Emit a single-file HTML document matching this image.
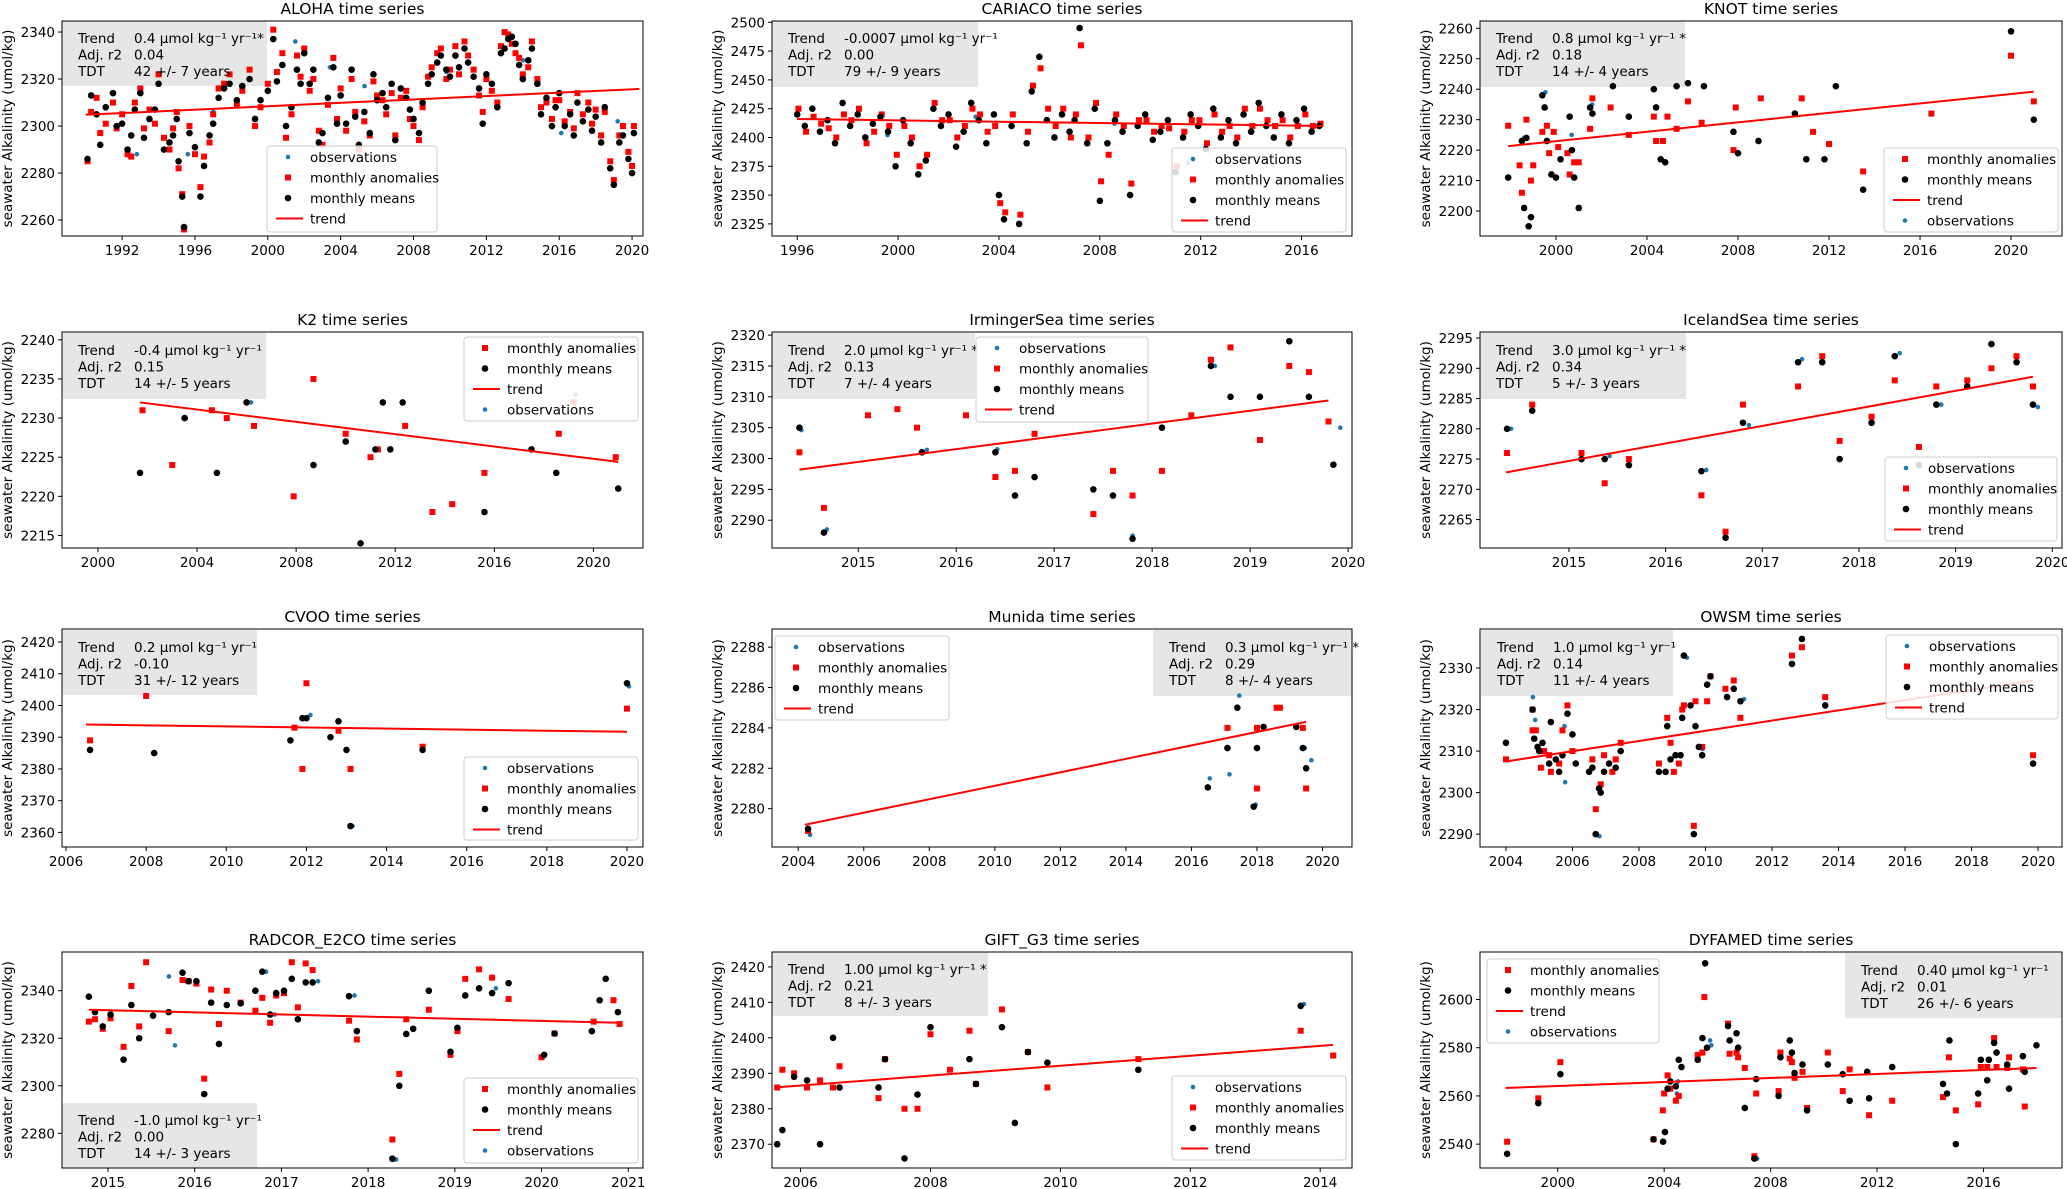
<!DOCTYPE html>
<html><head><meta charset="utf-8"><title>Seawater alkalinity time series</title>
<style>
html,body{margin:0;padding:0;background:#fff;}
svg{display:block;font-family:"DejaVu Sans","Liberation Sans",sans-serif;}
</style></head>
<body>
<svg id="fig" xmlns="http://www.w3.org/2000/svg" width="2067" height="1189" viewBox="0 0 2067 1189"></svg>
<script>
// ---------- DATA ----------
const alohaYears=[1990.1,1990.3,1990.6,1990.8,1991.1,1991.5,1991.7,1992.0,1992.3,1992.5,1992.7,1993.0,1993.2,1993.5,1993.8,1994.0,1994.3,1994.6,1994.8,1995.0,1995.1,1995.3,1995.4,1995.7,1996.0,1996.3,1996.5,1996.8,1997.0,1997.3,1997.6,1997.9,1998.3,1998.6,1999.0,1999.3,1999.6,2000.0,2000.3,2000.5,2000.8,2001.0,2001.3,2001.6,2001.8,2002.0,2002.3,2002.5,2002.8,2003.0,2003.3,2003.6,2003.8,2004.0,2004.3,2004.6,2004.8,2005.0,2005.3,2005.6,2005.8,2006.0,2006.3,2006.5,2006.8,2007.0,2007.3,2007.6,2007.8,2008.0,2008.3,2008.5,2008.8,2009.0,2009.3,2009.5,2009.8,2010.0,2010.3,2010.5,2010.8,2011.0,2011.3,2011.6,2011.8,2012.0,2012.3,2012.6,2012.8,2013.0,2013.2,2013.4,2013.6,2013.8,2014.0,2014.3,2014.5,2014.8,2015.0,2015.3,2015.6,2015.8,2016.0,2016.3,2016.6,2016.8,2017.0,2017.3,2017.6,2017.8,2018.0,2018.3,2018.5,2018.8,2019.0,2019.3,2019.5,2019.8,2020.0,2020.1];
const alohaMeans=[2286,2313,2305,2292,2308,2314,2300,2301,2290,2296,2307,2314,2295,2303,2307,2318,2290,2293,2296,2303,2285,2270,2257,2297,2291,2270,2283,2296,2301,2312,2316,2318,2311,2317,2320,2303,2311,2315,2337,2319,2326,2300,2308,2324,2318,2331,2318,2324,2293,2297,2312,2325,2301,2313,2301,2324,2304,2292,2306,2297,2322,2311,2314,2308,2318,2294,2316,2312,2307,2303,2297,2310,2318,2322,2327,2330,2324,2321,2330,2325,2333,2327,2321,2316,2301,2322,2318,2308,2331,2333,2337,2338,2335,2326,2320,2328,2333,2318,2305,2312,2300,2308,2314,2300,2305,2296,2310,2302,2307,2298,2304,2293,2308,2282,2275,2293,2296,2286,2280,2297];
const alohaAnom=[2285,2306,2312,2297,2301,2310,2299,2305,2288,2287,2310,2316,2299,2307,2301,2322,2295,2290,2299,2306,2282,2271,2256,2300,2288,2274,2287,2293,2305,2316,2318,2322,2309,2315,2324,2300,2308,2318,2341,2323,2331,2295,2305,2330,2321,2333,2315,2320,2298,2292,2309,2329,2303,2316,2298,2320,2306,2290,2302,2296,2319,2313,2311,2305,2314,2296,2312,2315,2303,2300,2294,2308,2321,2325,2331,2333,2320,2324,2334,2322,2336,2330,2324,2313,2306,2320,2315,2310,2334,2340,2339,2335,2331,2329,2322,2325,2336,2320,2308,2310,2303,2311,2311,2302,2306,2299,2314,2305,2310,2301,2307,2296,2306,2285,2277,2296,2300,2289,2283,2300];
const alohaObsYears=[1992.7,1995.5,1996.9,1999.9,2001.4,2003.3,2005.2,2009.7,2013.9,2016.0,2019.1];
const alohaObs=[2288,2288,2306,2318,2336,2325,2317,2323,2328,2297,2302];
const alohaTrendYears=[1990.0,2020.4];
const alohaTrendVals=[2304.8,2315.8];

const cariacoYears=[1996.0,1996.3,1996.6,1996.9,1997.2,1997.5,1997.8,1998.1,1998.4,1998.7,1999.0,1999.3,1999.6,1999.9,2000.2,2000.5,2000.8,2001.1,2001.4,2001.7,2002.0,2002.3,2002.6,2002.9,2003.2,2003.5,2003.8,2004.0,2004.2,2004.5,2004.8,2005.1,2005.3,2005.6,2005.9,2006.2,2006.5,2006.8,2007.0,2007.2,2007.5,2007.8,2008.0,2008.3,2008.6,2008.9,2009.2,2009.5,2009.8,2010.1,2010.4,2010.7,2011.0,2011.3,2011.6,2011.9,2012.2,2012.5,2012.8,2013.1,2013.4,2013.7,2014.0,2014.3,2014.6,2014.9,2015.2,2015.5,2015.8,2016.1,2016.4,2016.7];
const cariacoMeans=[2420,2410,2425,2405,2415,2395,2430,2410,2420,2400,2412,2418,2405,2375,2415,2395,2368,2380,2425,2410,2420,2392,2405,2430,2415,2395,2420,2350,2329,2410,2325,2395,2440,2470,2415,2400,2420,2405,2415,2495,2395,2425,2345,2395,2415,2405,2350,2410,2420,2398,2405,2415,2370,2400,2420,2410,2390,2425,2400,2415,2395,2420,2405,2430,2410,2400,2420,2395,2415,2425,2405,2410];
const cariacoAnom=[2425,2405,2418,2412,2408,2400,2420,2415,2425,2395,2405,2420,2410,2385,2410,2400,2375,2385,2430,2415,2415,2400,2410,2425,2420,2405,2410,2343,2335,2420,2333,2405,2445,2460,2425,2410,2425,2400,2420,2480,2400,2430,2362,2385,2420,2410,2360,2415,2415,2405,2410,2408,2375,2405,2415,2415,2395,2420,2405,2410,2400,2425,2410,2425,2415,2410,2415,2400,2410,2420,2410,2412];
const cariacoObsYears=[1999.5,2003.0,2008.5,2011.4];
const cariacoObs=[2402,2418,2412,2378];
const cariacoTrendYears=[1996.0,2016.8];
const cariacoTrendVals=[2416,2410];

const knotYears=[1997.9,1998.5,1998.6,1998.9,1998.8,1998.7,1999.4,1999.5,1999.6,1999.8,2000.0,2000.2,2000.6,2000.7,2000.8,2001.0,2001.5,2001.6,2002.5,2003.2,2004.3,2004.4,2004.6,2004.8,2005.3,2005.8,2006.5,2007.8,2008.0,2008.9,2010.5,2011.0,2011.8,2012.3,2013.5,2020.0,2021.0];
const knotMeans=[2211,2223,2201,2198,2195,2224,2238,2234,2223,2212,2211,2217,2231,2220,2211,2201,2234,2232,2241,2231,2240,2234,2217,2216,2241,2242,2241,2226,2219,2223,2232,2217,2217,2241,2207,2259,2230];
const knotAnomYears=[1997.9,1998.4,1998.5,1998.7,1998.9,1999.0,1999.4,1999.6,1999.7,1999.9,2000.1,2000.5,2000.6,2000.8,2001.0,2001.5,2001.6,2002.4,2003.2,2004.3,2004.4,2004.7,2004.9,2005.3,2005.8,2006.4,2007.8,2007.9,2009.0,2010.8,2011.3,2012.0,2013.5,2016.5,2020.0,2021.0];
const knotAnom=[2228,2215,2206,2230,2210,2215,2226,2228,2219,2226,2221,2219,2212,2216,2216,2227,2237,2234,2225,2231,2223,2223,2231,2227,2236,2229,2220,2234,2237,2237,2226,2222,2213,2232,2251,2236];
const knotObsYears=[1998.5,1999.45,2000.6,2001.5];
const knotObs=[2224,2239,2225,2235];
const knotTrendYears=[1997.9,2021.0];
const knotTrendVals=[2221.3,2239.2];

const k2Years=[2001.7,2002.9,2003.5,2004.8,2006.0,2007.8,2008.7,2010.0,2010.6,2011.2,2011.5,2011.8,2012.3,2013.4,2015.6,2017.5,2018.5,2021.0];
const k2Means=[2223,2213,2230,2223,2232,2212,2224,2227,2214,2226,2232,2226,2232,2213,2218,2226,2223,2221];
const k2AnomYears=[2001.8,2003.0,2004.6,2005.2,2006.3,2007.9,2008.7,2010.0,2011.0,2011.3,2012.4,2013.5,2014.3,2015.6,2018.6,2019.2,2020.9];
const k2Anom=[2231,2224,2231,2230,2229,2220,2235,2228,2225,2226,2229,2218,2219,2223,2228,2232,2225];
const k2ObsYears=[2006.1,2019.2];
const k2Obs=[2232,2233];
const k2TrendYears=[2001.7,2021.0];
const k2TrendVals=[2232.0,2224.4];

const irmYears=[2014.4,2014.65,2015.65,2016.4,2016.6,2016.8,2017.4,2017.6,2017.8,2018.1,2018.6,2018.8,2019.1,2019.4,2019.6,2019.85];
const irmMeans=[2305,2288,2301,2301,2294,2297,2295,2294,2287,2305,2315,2310,2310,2319,2310,2299];
const irmAnomYears=[2014.4,2014.65,2015.1,2015.4,2015.6,2016.1,2016.4,2016.6,2016.8,2017.4,2017.6,2017.8,2018.1,2018.4,2018.6,2018.8,2019.1,2019.4,2019.6,2019.8];
const irmAnom=[2301,2292,2307,2308,2305,2307,2297,2298,2304,2291,2298,2294,2298,2307,2316,2318,2303,2315,2314,2306];
const irmObsYears=[2014.4,2014.66,2015.68,2016.4,2017.58,2017.78,2018.62,2019.9];
const irmObs=[2304.6,2288.5,2301.4,2301.5,2294,2287.5,2315,2305];
const irmTrendYears=[2014.4,2019.8];
const irmTrendVals=[2298.2,2309.4];

const iceYears=[2014.36,2014.62,2015.13,2015.37,2015.62,2016.37,2016.62,2016.8,2017.37,2017.62,2017.8,2018.13,2018.37,2018.62,2018.8,2019.12,2019.37,2019.63,2019.8];
const iceMeans=[2280,2283,2275,2275,2274,2273,2262,2281,2291,2291,2275,2281,2292,2274,2284,2287,2294,2291,2284];
const iceAnom=[2276,2284,2276,2271,2275,2269,2263,2284,2287,2292,2278,2282,2288,2277,2287,2288,2290,2292,2287];
const iceObsYears=[2014.38,2015.4,2016.4,2016.84,2017.39,2018.4,2018.83,2019.83];
const iceObs=[2280,2275.5,2273.2,2280.6,2291.5,2292.5,2284,2283.6];
const iceTrendYears=[2014.35,2019.8];
const iceTrendVals=[2272.8,2288.6];

const cvooYears=[2006.6,2008.2,2011.6,2011.9,2012.0,2012.6,2012.8,2013.0,2013.1,2014.9,2020.0];
const cvooMeans=[2386,2385,2389,2396,2396,2390,2395,2386,2362,2386,2407];
const cvooAnomYears=[2006.6,2008.0,2011.7,2011.9,2012.0,2012.8,2013.1,2014.9,2020.0];
const cvooAnom=[2389,2403,2393,2380,2407,2392,2380,2387,2399];
const cvooObsYears=[2012.05,2013.1,2020.0];
const cvooObs=[2397,2362,2406];
const cvooTrendYears=[2006.5,2020.0];
const cvooTrendVals=[2394.0,2391.7];

const munYears=[2004.3,2016.5,2017.1,2017.4,2018.0,2017.9,2018.2,2019.2,2019.4,2019.5];
const munMeans=[2279.0,2281.05,2283.0,2285.0,2283.0,2280.1,2284.05,2284.05,2283.0,2282.0];
const munAnomYears=[2004.3,2017.1,2018.0,2018.6,2018.7,2018.0,2019.4,2019.5];
const munAnom=[2278.9,2284.0,2284.0,2285.0,2285.0,2281.0,2284.0,2281.0];
const munObsYears=[2004.3,2016.5,2017.1,2017.4,2017.9,2019.4,2019.6];
const munObs=[2278.7,2281.5,2281.7,2285.6,2280.2,2283.0,2282.4];
const munTrendYears=[2004.2,2019.5];
const munTrendVals=[2279.2,2284.3];

const owsmYears=[2004.0,2004.8,2004.85,2004.95,2005.0,2005.1,2005.3,2005.35,2005.5,2005.6,2005.7,2005.85,2006.0,2006.1,2006.5,2006.6,2006.7,2006.8,2006.85,2006.95,2007.1,2007.3,2007.45,2008.6,2008.8,2008.85,2008.95,2009.1,2009.25,2009.3,2009.35,2009.55,2009.65,2009.7,2009.8,2009.9,2010.05,2010.15,2010.65,2010.85,2011.05,2012.6,2012.9,2013.6,2019.85];
const owsmMeans=[2312,2320,2313,2311,2310,2312,2307,2317,2308,2305,2309,2319,2314,2307,2305,2306,2290,2301,2300,2305,2307,2306,2310,2305,2305,2316,2308,2309,2309,2318,2333,2321,2290,2316,2311,2309,2326,2328,2323,2325,2322,2331,2337,2321,2307];
const owsmAnomYears=[2004.0,2004.8,2004.8,2004.9,2005.05,2005.15,2005.35,2005.3,2005.6,2005.7,2005.85,2006.0,2006.6,2006.7,2006.85,2006.95,2007.2,2007.3,2007.45,2008.6,2008.85,2008.95,2009.05,2009.2,2009.3,2009.35,2009.65,2009.7,2009.9,2010.05,2010.15,2010.6,2010.85,2011.05,2012.6,2012.9,2013.6,2019.85];
const owsmAnom=[2308,2320,2315,2315,2306,2310,2305,2309,2307,2315,2321,2310,2308,2296,2302,2309,2305,2308,2312,2307,2318,2312,2305,2307,2320,2321,2292,2322,2311,2322,2328,2325,2327,2318,2333,2335,2323,2309];
const owsmObsYears=[2004.75,2004.82,2005.7,2005.72,2006.75,2009.38,2009.85,2011.1];
const owsmObs=[2323,2317.5,2316,2302.5,2289.5,2332.5,2310.5,2322.5];
const owsmTrendYears=[2004.0,2019.85];
const owsmTrendVals=[2307.5,2327.0];

const radYears=[2014.78,2014.85,2014.94,2015.03,2015.18,2015.27,2015.36,2015.52,2015.7,2015.86,2015.93,2016.02,2016.11,2016.19,2016.28,2016.37,2016.53,2016.7,2016.78,2016.87,2016.94,2017.03,2017.12,2017.19,2017.28,2017.36,2017.78,2017.87,2018.28,2018.36,2018.44,2018.52,2018.7,2018.95,2019.03,2019.12,2019.28,2019.43,2019.62,2020.03,2020.15,2020.58,2020.67,2020.74,2020.88];
const radMeans=[2337.5,2331,2325,2330,2311,2334,2320,2329.5,2331,2347.6,2344,2344,2296.5,2335,2317.6,2334,2334.7,2340,2348,2330,2339,2340,2345,2328,2343.5,2343.5,2337.7,2323,2269.3,2300,2321.8,2324,2340,2314.3,2324.4,2338,2341,2339,2343.2,2313,2322,2323,2336,2345,2331];
const radAnomYears=[2014.78,2014.85,2014.94,2015.03,2015.18,2015.27,2015.36,2015.44,2015.7,2015.86,2015.93,2016.02,2016.11,2016.19,2016.28,2016.37,2016.53,2016.7,2016.78,2016.87,2016.94,2017.03,2017.12,2017.19,2017.28,2017.36,2017.78,2017.87,2018.28,2018.36,2018.44,2018.7,2018.95,2019.03,2019.12,2019.28,2019.43,2019.62,2020.0,2020.15,2020.6,2020.83,2020.9];
const radAnom=[2327,2328,2324,2328.4,2316.4,2342,2325,2352,2323,2344.5,2344,2343,2303,2340.5,2326,2340,2335,2331.6,2337,2326.5,2338,2339,2352,2333,2351.5,2348.7,2327.4,2319.5,2277.4,2305,2328,2332,2313,2323,2345,2349,2345.5,2336.5,2312,2322,2327,2336,2326];
const radObsYears=[2015.68,2015.75,2016.8,2016.9,2017.4,2017.82,2018.3,2019.45];
const radObs=[2346,2317,2348,2330,2344,2338,2269,2341];
const radTrendYears=[2014.78,2020.9];
const radTrendVals=[2332.0,2326.5];

const giftYears=[2005.64,2005.72,2005.9,2006.1,2006.3,2006.5,2006.6,2007.2,2007.3,2007.6,2007.8,2008.0,2008.6,2008.7,2009.1,2009.3,2009.5,2009.8,2011.2,2013.7];
const giftMeans=[2370,2374,2389,2388,2370,2400,2386,2386,2394,2366,2384,2403,2394,2387,2403,2376,2396,2393,2391,2409];
const giftAnomYears=[2005.64,2005.72,2005.9,2006.1,2006.3,2006.5,2006.6,2007.2,2007.3,2007.6,2007.8,2008.0,2008.3,2008.6,2008.7,2009.1,2009.5,2009.8,2011.2,2013.7,2014.2];
const giftAnom=[2386,2391,2390,2386,2388,2386,2392,2383,2394,2380,2380,2401,2391,2402,2387,2408,2396,2386,2394,2402,2395];
const giftObsYears=[2013.72];
const giftObs=[2409.5];
const giftTrendYears=[2005.6,2014.2];
const giftTrendVals=[2386.0,2398.0];

const dyfYears=[1998.1,1999.27,2000.1,2003.6,2003.96,2004.03,2004.13,2004.23,2004.44,2004.55,2004.65,2005.26,2005.44,2005.54,2005.61,2006.4,2006.46,2006.72,2006.78,2007.03,2007.39,2007.46,2008.3,2008.37,2008.72,2008.8,2008.9,2009.2,2009.37,2010.15,2010.71,2010.97,2011.63,2011.7,2012.57,2014.48,2014.63,2014.72,2014.96,2015.8,2015.9,2016.14,2016.2,2016.4,2016.49,2016.89,2016.96,2017.48,2017.55,2017.99];
const dyfMeans=[2536,2557,2569,2542,2541,2545,2563,2566,2564,2575,2572,2575,2584,2615,2580,2589,2583,2586,2580,2555,2534,2567,2560,2576,2583,2578,2569.5,2573,2554,2573,2569,2558,2570,2559,2572,2565,2561,2583,2540,2561,2575,2566.5,2575,2582,2578,2573,2563,2576.5,2570,2581];
const dyfAnomYears=[1998.1,1999.27,2000.1,2003.6,2003.95,2004.0,2004.13,2004.23,2004.44,2004.55,2005.26,2005.44,2005.51,2006.4,2006.46,2006.72,2006.78,2007.03,2007.39,2007.46,2008.3,2008.37,2008.72,2008.8,2008.9,2009.2,2009.37,2010.15,2010.71,2010.97,2011.7,2012.57,2014.48,2014.7,2014.96,2015.8,2015.9,2016.14,2016.4,2016.49,2016.89,2016.96,2017.48,2017.55];
const dyfAnom=[2541,2559,2574,2542,2554,2561,2568.5,2563,2558,2560,2577,2578,2601,2590,2577.5,2578,2576,2571.6,2535,2561,2562,2578,2575.5,2574,2567.5,2570,2555,2578,2562,2571,2552,2558,2559.5,2576,2554,2556.5,2572,2572,2584,2572,2571.6,2576,2571,2555.6];
const dyfObsYears=[2004.4,2004.45,2005.65,2005.7,2007.42];
const dyfObs=[2561,2566,2583,2581,2534];
const dyfTrendYears=[1998.04,2017.99];
const dyfTrendVals=[2563.3,2571.6];

// ---------- PANEL LAYOUT ----------
const C1=[62,643],C2=[772,1352],C3=[1480,2062];
const R1=[21,236],R2=[332,548],R3=[629,847],R4=[952,1168];
const panels=[
 {id:'aloha',title:'ALOHA time series',col:C1,row:R1,x0:1988.7,x1:2020.6,y0:2253.2,y1:2344.7,xt:[1992,1996,2000,2004,2008,2012,2016,2020],yt:[2260,2280,2300,2320,2340],
  yrs:alohaYears,means:alohaMeans,ayrs:alohaYears,anom:alohaAnom,oyrs:alohaObsYears,obs:alohaObs,tx:alohaTrendYears,ty:alohaTrendVals,
  info:[62,21,205,65],it:['0.4 µmol kg⁻¹ yr⁻¹*','0.04','42 +/- 7 years'],leg:[267,146,170,86],order:['obs','anom','means','trend']},
 {id:'cariaco',title:'CARIACO time series',col:C2,row:R2?C2&&R1:R1,x0:1995.0,x1:2018.0,y0:2314.5,y1:2501.1,xt:[1996,2000,2004,2008,2012,2016],yt:[2325,2350,2375,2400,2425,2450,2475,2500],
  yrs:cariacoYears,means:cariacoMeans,ayrs:cariacoYears.map(v=>v+0.05),anom:cariacoAnom,oyrs:cariacoObsYears,obs:cariacoObs,tx:cariacoTrendYears,ty:cariacoTrendVals,
  info:[772,21,206,66],it:['-0.0007 µmol kg⁻¹ yr⁻¹','0.00','79 +/- 9 years'],leg:[1172,148,174,84],order:['obs','anom','means','trend']},
 {id:'knot',title:'KNOT time series',col:C3,row:R1,x0:1996.66,x1:2022.24,y0:2191.8,y1:2262.4,xt:[2000,2004,2008,2012,2016,2020],yt:[2200,2210,2220,2230,2240,2250,2260],
  yrs:knotYears,means:knotMeans,ayrs:knotAnomYears,anom:knotAnom,oyrs:knotObsYears,obs:knotObs,tx:knotTrendYears,ty:knotTrendVals,
  info:[1480,21,205,66],it:['0.8 µmol kg⁻¹ yr⁻¹ *','0.18','14 +/- 4 years'],leg:[1884,148,174,84],order:['anom','means','trend','obs']},
 {id:'k2',title:'K2 time series',col:C1,row:R2,x0:1998.55,x1:2022.0,y0:2213.4,y1:2241.0,xt:[2000,2004,2008,2012,2016,2020],yt:[2215,2220,2225,2230,2235,2240],
  yrs:k2Years,means:k2Means,ayrs:k2AnomYears,anom:k2Anom,oyrs:k2ObsYears,obs:k2Obs,tx:k2TrendYears,ty:k2TrendVals,
  info:[62,333,204,66],it:['-0.4 µmol kg⁻¹ yr⁻¹','0.15','14 +/- 5 years'],leg:[464,337,174,84],order:['anom','means','trend','obs']},
 {id:'irminger',title:'IrmingerSea time series',col:C2,row:R2,x0:2014.12,x1:2020.04,y0:2285.5,y1:2320.5,xt:[2015,2016,2017,2018,2019,2020],yt:[2290,2295,2300,2305,2310,2315,2320],
  yrs:irmYears,means:irmMeans,ayrs:irmAnomYears,anom:irmAnom,oyrs:irmObsYears,obs:irmObs,tx:irmTrendYears,ty:irmTrendVals,
  info:[772,333,203,66],it:['2.0 µmol kg⁻¹ yr⁻¹ *','0.13','7 +/- 4 years'],leg:[976,337,172,85],order:['obs','anom','means','trend']},
 {id:'iceland',title:'IcelandSea time series',col:C3,row:R2,x0:2014.08,x1:2020.1,y0:2260.3,y1:2296.0,xt:[2015,2016,2017,2018,2019,2020],yt:[2265,2270,2275,2280,2285,2290,2295],
  yrs:iceYears,means:iceMeans,ayrs:iceYears,anom:iceAnom,oyrs:iceObsYears,obs:iceObs,tx:iceTrendYears,ty:iceTrendVals,
  info:[1480,333,206,66],it:['3.0 µmol kg⁻¹ yr⁻¹ *','0.34','5 +/- 3 years'],leg:[1885,457,172,84],order:['obs','anom','means','trend']},
 {id:'cvoo',title:'CVOO time series',col:C1,row:R3,x0:2005.9,x1:2020.4,y0:2355.4,y1:2424.1,xt:[2006,2008,2010,2012,2014,2016,2018,2020],yt:[2360,2370,2380,2390,2400,2410,2420],
  yrs:cvooYears,means:cvooMeans,ayrs:cvooAnomYears,anom:cvooAnom,oyrs:cvooObsYears,obs:cvooObs,tx:cvooTrendYears,ty:cvooTrendVals,
  info:[62,630,195,65],it:['0.2 µmol kg⁻¹ yr⁻¹','-0.10','31 +/- 12 years'],leg:[464,757,174,83],order:['obs','anom','means','trend']},
 {id:'munida',title:'Munida time series',col:C2,row:R3,x0:2003.2,x1:2020.9,y0:2278.1,y1:2288.9,xt:[2004,2006,2008,2010,2012,2014,2016,2018,2020],yt:[2280,2282,2284,2286,2288],
  yrs:munYears,means:munMeans,ayrs:munAnomYears,anom:munAnom,oyrs:munObsYears,obs:munObs,tx:munTrendYears,ty:munTrendVals,
  info:[1153,630,199,66],it:['0.3 µmol kg⁻¹ yr⁻¹ *','0.29','8 +/- 4 years'],leg:[775,636,174,84],order:['obs','anom','means','trend']},
 {id:'owsm',title:'OWSM time series',col:C3,row:R3,x0:2003.22,x1:2020.72,y0:2286.9,y1:2339.4,xt:[2004,2006,2008,2010,2012,2014,2016,2018,2020],yt:[2290,2300,2310,2320,2330],
  yrs:owsmYears,means:owsmMeans,ayrs:owsmAnomYears,anom:owsmAnom,oyrs:owsmObsYears,obs:owsmObs,tx:owsmTrendYears,ty:owsmTrendVals,
  info:[1481,630,192,66],it:['1.0 µmol kg⁻¹ yr⁻¹','0.14','11 +/- 4 years'],leg:[1886,635,172,84],order:['obs','anom','means','trend']},
 {id:'radcor',title:'RADCOR_E2CO time series',col:C1,row:R4,x0:2014.47,x1:2021.17,y0:2265.4,y1:2356.3,xt:[2015,2016,2017,2018,2019,2020,2021],yt:[2280,2300,2320,2340],
  yrs:radYears,means:radMeans,ayrs:radAnomYears,anom:radAnom,oyrs:radObsYears,obs:radObs,tx:radTrendYears,ty:radTrendVals,
  info:[62,1103,195,65],it:['-1.0 µmol kg⁻¹ yr⁻¹','0.00','14 +/- 3 years'],leg:[464,1078,174,85],order:['anom','means','trend','obs']},
 {id:'gift',title:'GIFT_G3 time series',col:C2,row:R4,x0:2005.56,x1:2014.49,y0:2363.3,y1:2424.2,xt:[2006,2008,2010,2012,2014],yt:[2370,2380,2390,2400,2410,2420],
  yrs:giftYears,means:giftMeans,ayrs:giftAnomYears,anom:giftAnom,oyrs:giftObsYears,obs:giftObs,tx:giftTrendYears,ty:giftTrendVals,
  info:[772,952,216,64],it:['1.00 µmol kg⁻¹ yr⁻¹ *','0.21','8 +/- 3 years'],leg:[1172,1076,174,84],order:['obs','anom','means','trend']},
 {id:'dyfamed',title:'DYFAMED time series',col:C3,row:R4,x0:1997.08,x1:2018.95,y0:2530.1,y1:2619.7,xt:[2000,2004,2008,2012,2016],yt:[2540,2560,2580,2600],
  yrs:dyfYears,means:dyfMeans,ayrs:dyfAnomYears,anom:dyfAnom,oyrs:dyfObsYears,obs:dyfObs,tx:dyfTrendYears,ty:dyfTrendVals,
  info:[1845,953,217,65],it:['0.40 µmol kg⁻¹ yr⁻¹','0.01','26 +/- 6 years'],leg:[1487,959,172,84],order:['anom','means','trend','obs']}
];
panels[1].row=R1;

// ---------- DRAW ----------
const NS='http://www.w3.org/2000/svg';
const svg=document.getElementById('fig');
function mk(tag,attrs,parent){const e=document.createElementNS(NS,tag);for(const k in attrs)e.setAttribute(k,attrs[k]);parent.appendChild(e);return e;}
const defs=mk('defs',{},svg);

panels.forEach(p=>{
  const L=p.col[0],R=p.col[1],T=p.row[0],B=p.row[1];
  const sx=v=>L+(v-p.x0)/(p.x1-p.x0)*(R-L);
  const sy=v=>B-(v-p.y0)/(p.y1-p.y0)*(B-T);
  const g=mk('g',{},svg);
  
  
  const cp=mk('clipPath',{id:'clip-'+p.id},defs);
  mk('rect',{x:L,y:T,width:R-L,height:B-T},cp);

  const title=mk('text',{x:(L+R)/2,y:T-7,'text-anchor':'middle','font-size':15.5,fill:'#000'},g);
  title.textContent=p.title;
  
  

  const yl=mk('text',{x:0,y:0,'text-anchor':'middle','font-size':13.5,fill:'#000',transform:`translate(${L-50},${(T+B)/2}) rotate(-90)`},g);
  yl.textContent='seawater Alkalinity (umol/kg)';
  
  

  p.yt.forEach(v=>{
    const y=sy(v);
    const tk=mk('line',{x1:L-4,x2:L,y1:y,y2:y,stroke:'#000','stroke-width':1},g);
    
    
    const t=mk('text',{x:L-7,y:y+5,'text-anchor':'end','font-size':13.5,fill:'#000'},g);
    t.textContent=v;
    
    
  });
  p.xt.forEach(v=>{
    const x=sx(v);
    const tk=mk('line',{x1:x,x2:x,y1:B,y2:B+4,stroke:'#000','stroke-width':1},g);
    
    
    const t=mk('text',{x:x,y:B+19,'text-anchor':'middle','font-size':13.5,fill:'#000'},g);
    t.textContent=v;
    
    
  });

  const pg=mk('g',{'clip-path':`url(#clip-${p.id})`},g);
  
  

  // info box (behind points)
  const ib=mk('rect',{x:p.info[0],y:p.info[1],width:p.info[2],height:p.info[3],fill:'#e6e6e6'},pg);
  
  

  p.oyrs.forEach((yr,i)=>{
    if(p.obs[i]===undefined)return;
    const c=mk('circle',{cx:sx(yr)+2,cy:sy(p.obs[i]),r:2.3,fill:'#1f77b4'},pg);
    
    
  });
  p.ayrs.forEach((yr,i)=>{
    if(p.anom[i]===undefined)return;
    const r=mk('rect',{x:sx(yr)-3,y:sy(p.anom[i])-3,width:6,height:6,fill:'#ff0000'},pg);
    
    
  });
  p.yrs.forEach((yr,i)=>{
    if(p.means[i]===undefined)return;
    const c=mk('circle',{cx:sx(yr),cy:sy(p.means[i]),r:3.3,fill:'#000'},pg);
    
    
  });
  const tl=mk('line',{x1:sx(p.tx[0]),y1:sy(p.ty[0]),x2:sx(p.tx[1]),y2:sy(p.ty[1]),stroke:'#ff0000','stroke-width':2},pg);
  
  

  // stats text
  const labels=['Trend','Adj. r2','TDT'];
  labels.forEach((lb,i)=>{
    const yy=p.info[1]+22+i*16.5;
    const a=mk('text',{x:p.info[0]+16,y:yy,'font-size':13.5,fill:'#000'},g);
    a.textContent=lb;
    
    
    const b=mk('text',{x:p.info[0]+72,y:yy,'font-size':13.5,fill:'#000'},g);
    b.textContent=p.it[i];
    
    
  });

  // legend
  const lg=mk('g',{},g);
  
  
  const lr=mk('rect',{x:p.leg[0],y:p.leg[1],width:p.leg[2],height:p.leg[3],rx:3,fill:'#fff','fill-opacity':0.85,stroke:'#cccccc','stroke-width':1},lg);
  
  
  const names={obs:'observations',anom:'monthly anomalies',means:'monthly means',trend:'trend'};
  p.order.forEach((k,i)=>{
    const cy=p.leg[1]+11+i*20.5;
    const mx=p.leg[0]+21;
    let m;
    if(k==='obs')m=mk('circle',{cx:mx,cy:cy,r:2.3,fill:'#1f77b4'},lg);
    else if(k==='anom')m=mk('rect',{x:mx-3,y:cy-3,width:6,height:6,fill:'#ff0000'},lg);
    else if(k==='means')m=mk('circle',{cx:mx,cy:cy,r:3.3,fill:'#000'},lg);
    else m=mk('line',{x1:mx-12,x2:mx+15,y1:cy,y2:cy,stroke:'#ff0000','stroke-width':2},lg);
    
    
    const t=mk('text',{x:p.leg[0]+43,y:cy+5,'font-size':13.5,fill:'#000'},lg);
    t.textContent=names[k];
    
    
  });

  const fr=mk('rect',{x:L,y:T,width:R-L,height:B-T,fill:'none',stroke:'#000','stroke-width':1},g);
  
  
});
</script>
</body></html>
